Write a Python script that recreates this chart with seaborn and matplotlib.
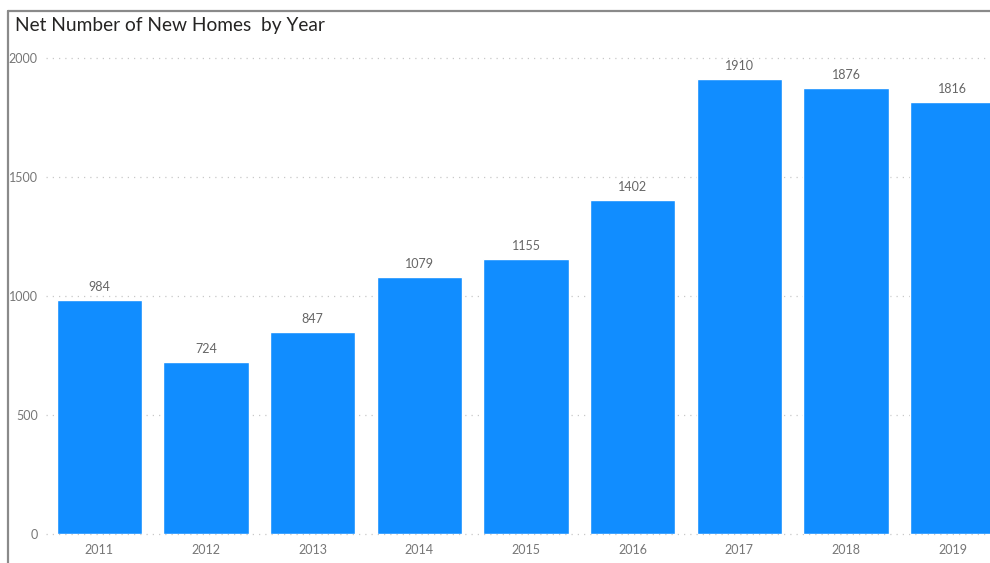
import matplotlib
matplotlib.use("Agg")
import matplotlib.pyplot as plt
import seaborn as sns
import pandas as pd
from matplotlib.lines import Line2D

years = ["2011", "2012", "2013", "2014", "2015", "2016", "2017", "2018", "2019"]
homes = [984, 724, 847, 1079, 1155, 1402, 1910, 1876, 1816]
yticks = [0, 500, 1000, 1500, 2000]
title = "Net Number of New Homes  by Year"

df = pd.DataFrame({"Year": years, "Homes": homes})

sns.set_theme(style="white")
plt.rcParams["font.family"] = ["Lato", "DejaVu Sans"]

W, H = 990, 563
fig = plt.figure(figsize=(W / 100, H / 100), dpi=100)
ax = fig.add_axes([46 / W, (H - 534) / H, 1 - 46 / W, (534 - 58) / H])

sns.barplot(data=df, x="Year", y="Homes", color="#118DFF", width=0.8,
            saturation=1, ax=ax, zorder=3)

ax.set_xlim(-0.5, 8.35)
ax.set_ylim(0, 2000)
ax.set_yticks(yticks)
ax.set_yticklabels([str(v) for v in yticks])
ax.set_xlabel("")
ax.set_ylabel("")
for s in ax.spines.values():
    s.set_visible(False)
ax.tick_params(axis="both", length=0, labelsize=9, colors="#777777")
ax.tick_params(axis="y", pad=6)
ax.tick_params(axis="x", pad=7)
for v in yticks:
    ax.axhline(v, color="#c8c8c8", lw=0.9, ls=(0, (1, 4)), zorder=1, clip_on=False)

for c in ax.containers:
    ax.bar_label(c, labels=[str(v) for v in homes], padding=5,
                 fontsize=9, color="#666666", clip_on=False)

fig.text(15 / W, 1 - 25 / H, title, fontsize=13.8, color="#252423",
         ha="left", va="center")

fig.add_artist(Line2D([8 / W, 1], [1 - 11 / H, 1 - 11 / H],
                      transform=fig.transFigure, color="#8a8a8a", lw=1.6))
fig.add_artist(Line2D([8 / W, 8 / W], [1 - 11 / H, 0],
                      transform=fig.transFigure, color="#8a8a8a", lw=1.6))

fig.savefig("out.png", dpi=100)
